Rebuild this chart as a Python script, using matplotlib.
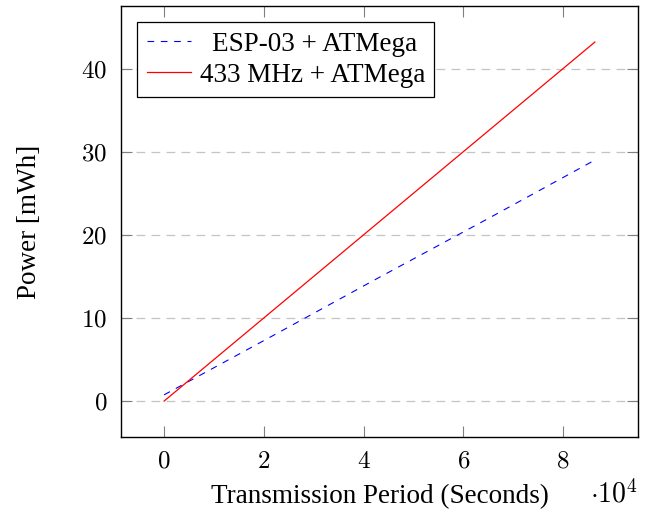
import matplotlib
matplotlib.use("Agg")
import matplotlib.pyplot as plt
from matplotlib.ticker import FuncFormatter

# DATOS
# -------------------------
period_s = [0, 21600, 43200, 64800, 86400]
esp_power = [0.75, 7.8, 14.9, 21.9, 29.0]
rf433_power = [0.0, 10.8, 21.6, 32.4, 43.2]
series_labels = ["ESP-03 + ATMega", "433 MHz + ATMega"]
x_ticks = [0, 2, 4, 6, 8]
y_ticks = [0, 10, 20, 30, 40]

plt.rcParams["font.family"] = ["Liberation Serif", "DejaVu Serif"]
plt.rcParams["mathtext.fontset"] = "cm"

fig = plt.figure(figsize=(6.54, 5.12), dpi=100)
ax = fig.add_axes([0.185, 0.1465, 0.7905, 0.8415])

x = [p / 1e4 for p in period_s]

# leyenda centrada como en pgfplots: un poco de espacio delante de la etiqueta corta
ax.plot(x, esp_power, color="blue", lw=0.8, linestyle=(0, (6, 6)),
        label=" \u2009" + series_labels[0])
ax.plot(x, rf433_power, color="red", lw=0.9, label=series_labels[1])

ax.set_xlim(-0.864, 9.504)
ax.set_ylim(-4.32, 47.52)
ax.set_xticks(x_ticks)
ax.set_yticks(y_ticks)
tick_fmt = FuncFormatter(lambda v, pos: "$%d$" % v)
ax.xaxis.set_major_formatter(tick_fmt)
ax.yaxis.set_major_formatter(tick_fmt)

ax.grid(axis="y", color="#c4c4c4", lw=0.9, linestyle=(0, (7, 5)))
ax.set_axisbelow(True)

ax.tick_params(direction="in", length=8, width=0.8, color="#808080",
               labelsize=18, top=True, right=True, pad=10)
for s in ax.spines.values():
    s.set_linewidth(1.0)

ax.set_xlabel("Transmission Period (Seconds)", fontsize=19.5, labelpad=8)
ax.set_ylabel("Power [mWh]", fontsize=19.5, labelpad=28)
ax.text(1.0, -0.152, r"$\cdot 10^4$", transform=ax.transAxes,
        ha="right", va="baseline", fontsize=20)

leg = ax.legend(loc="upper left", fontsize=19.5, frameon=True, fancybox=False,
                edgecolor="black", framealpha=1, handlelength=1.65,
                borderaxespad=0.6, borderpad=0.35, labelspacing=0.22,
                handletextpad=0.3)
leg.get_frame().set_linewidth(0.9)

fig.savefig("out.png", dpi=100)
